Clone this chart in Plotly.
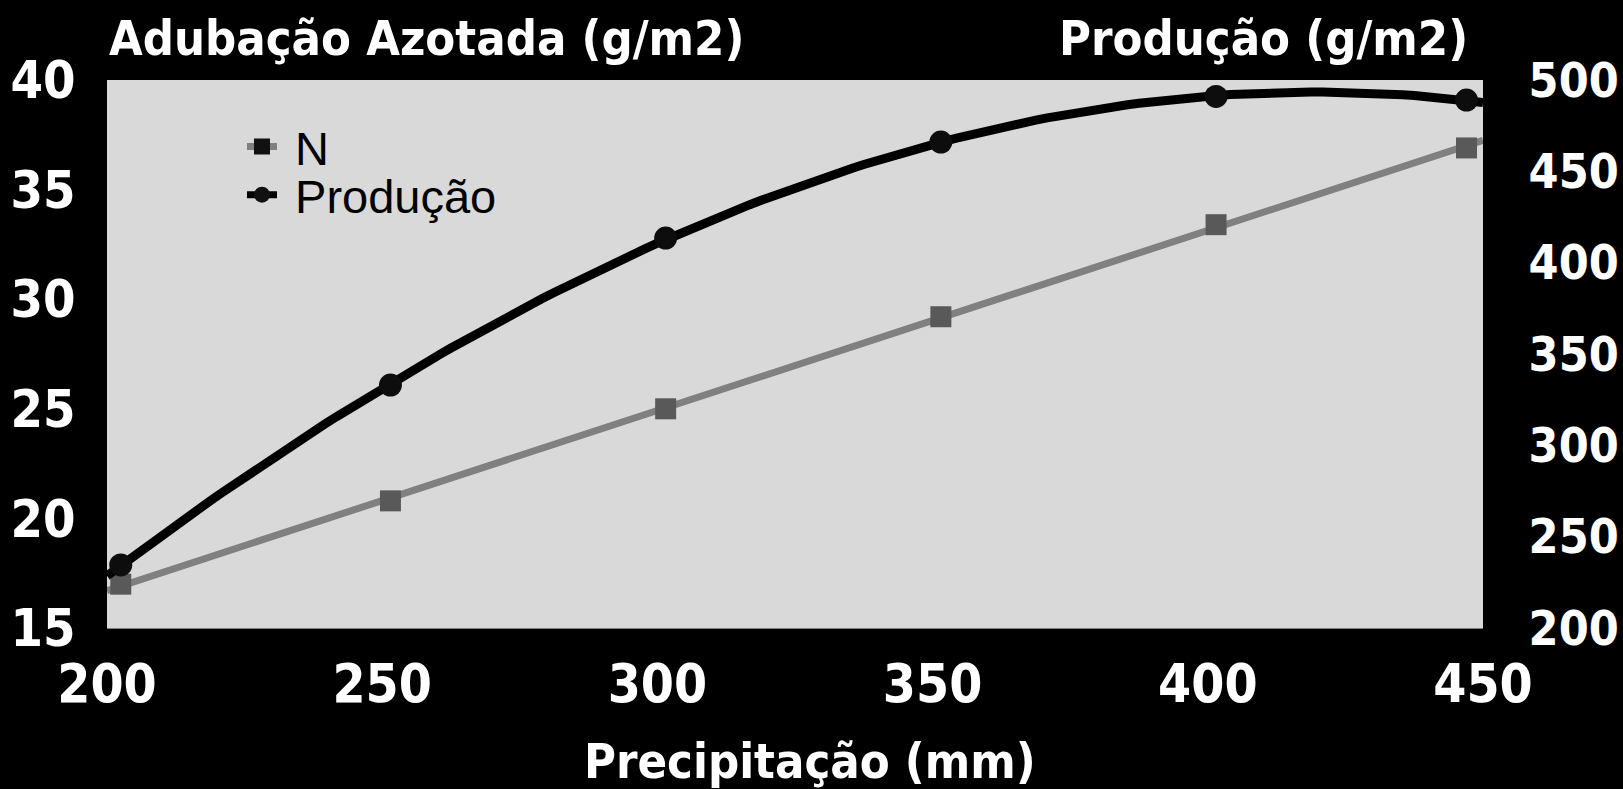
import numpy as np
import plotly.graph_objects as go

# precipitation (mm) for each observation
precip = [202.5, 251.5, 301.5, 351.5, 401.5, 447]
# nitrogen fertilisation (g/m2), left axis
adubacao_n = [17.0, 20.8, 25.0, 29.2, 33.4, 36.9]
# production (g/m2), right axis
producao = [234.5, 333, 413.5, 466, 491, 489]

x_ticks = [200, 250, 300, 350, 400, 450]
yl_ticks = [15, 20, 25, 30, 35, 40]
yr_ticks = [200, 250, 300, 350, 400, 450, 500]

bold = "DejaVu Sans Condensed, DejaVu Sans"


def bfont(size):
    return dict(family=bold, size=size, color="white", weight="bold")


titlefont = bfont(48.5)

# excel-style trendlines: linear for N, 3rd order poly for production
xs = np.linspace(200, 450, 121)
n_fit = np.polyval(np.polyfit(precip, adubacao_n, 1), xs)
p_fit = np.polyval(np.polyfit(precip, producao, 3), xs)

fig = go.Figure()
fig.add_trace(go.Scatter(x=xs, y=n_fit, mode="lines", line=dict(color="#808080", width=7),
                         showlegend=False, hoverinfo="skip"))
fig.add_trace(go.Scatter(x=precip, y=adubacao_n, mode="markers", showlegend=False,
                         marker=dict(symbol="square", size=21, color="#595959")))
fig.add_trace(go.Scatter(x=xs, y=p_fit, mode="lines", line=dict(color="black", width=9),
                         showlegend=False, hoverinfo="skip", yaxis="y2"))
fig.add_trace(go.Scatter(x=precip, y=producao, mode="markers", showlegend=False, yaxis="y2",
                         marker=dict(symbol="circle", size=23, color="#0d0d0d")))
# legend entries, one legend each so the rows can sit close together
fig.add_trace(go.Scatter(x=[None], y=[None], mode="lines+markers", name=" N", legend="legend",
                         line=dict(color="#808080", width=7),
                         marker=dict(symbol="square", size=18, color="#111111")))
fig.add_trace(go.Scatter(x=[None], y=[None], mode="lines+markers", name=" Produção",
                         legend="legend2", line=dict(color="black", width=7),
                         marker=dict(symbol="circle", size=18, color="#111111")))

legfont = dict(family="Liberation Sans, Arial", size=47, color="black")
fig.update_layout(
    width=1623, height=789,
    paper_bgcolor="black", plot_bgcolor="#d9d9d9",
    margin=dict(l=107, r=140, t=80, b=161),
    showlegend=True,
    legend=dict(x=0.0981, y=0.878, xanchor="left", yanchor="middle",
                bgcolor="rgba(0,0,0,0)", font=legfont),
    legend2=dict(x=0.0981, y=0.790, xanchor="left", yanchor="middle",
                 bgcolor="rgba(0,0,0,0)", font=legfont),
    xaxis=dict(range=[200, 450], tickvals=x_ticks, tickfont=bfont(53), showgrid=False,
               zeroline=False, showline=True, linecolor="#808080", linewidth=1,
               ticks="outside", ticklen=9, tickcolor="black", automargin=False),
    yaxis=dict(range=[15, 40], tickvals=yl_ticks, tickfont=bfont(52), showgrid=False,
               zeroline=False, ticks="outside", ticklen=20, tickcolor="black",
               automargin=False),
    yaxis2=dict(range=[200, 500], tickvals=yr_ticks, tickfont=bfont(48), showgrid=False,
                zeroline=False, overlaying="y", side="right",
                ticks="outside", ticklen=35, tickcolor="black", automargin=False),
    annotations=[
        dict(text="Adubação Azotada (g/m2)", xref="paper", yref="paper", x=0.0, y=1.077,
             xanchor="left", yanchor="middle", showarrow=False, font=titlefont),
        dict(text="Produção (g/m2)", xref="paper", yref="paper", x=0.9905, y=1.077,
             xanchor="right", yanchor="middle", showarrow=False, font=titlefont),
        dict(text="Precipitação (mm)", xref="paper", yref="paper", x=0.5110, y=-0.242,
             xanchor="center", yanchor="middle", showarrow=False, font=titlefont),
    ],
)

fig.write_html("out.html", config={"displayModeBar": False},
               post_script="document.body.style.margin='0';document.body.style.background='black';")
